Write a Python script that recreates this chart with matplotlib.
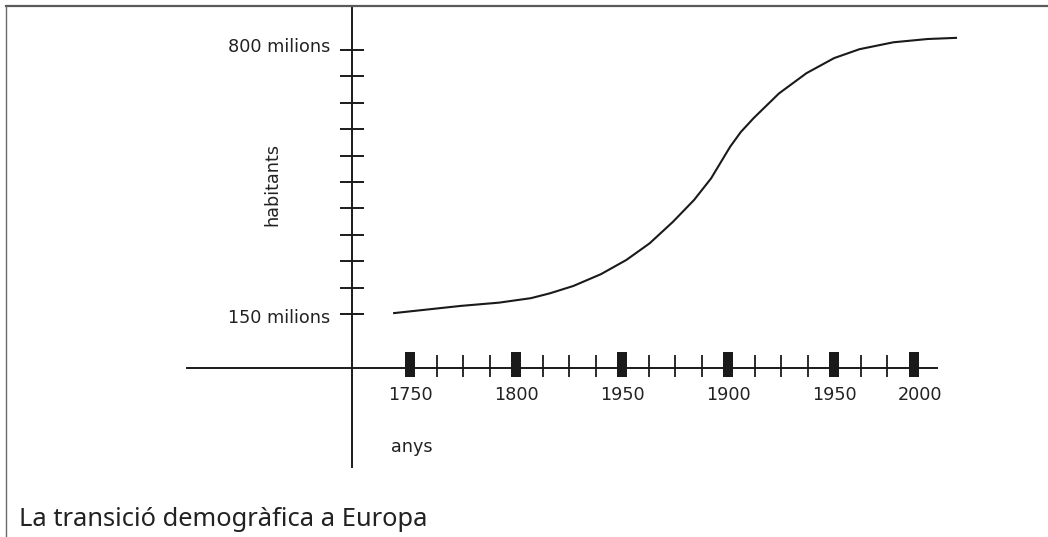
import matplotlib
matplotlib.use("Agg")
import matplotlib.pyplot as plt
import matplotlib.transforms as mtransforms
from matplotlib.lines import Line2D

# ── Data ────────────────────────────────────────────────────────────────────
years = [1742, 1774, 1792, 1807, 1816, 1827, 1840, 1852, 1863, 1874, 1884,
         1892, 1901, 1906, 1912, 1924, 1937, 1950, 1962, 1978, 1994, 2008]
population = [152, 170, 178, 189, 201, 219, 248, 283, 324, 377, 431,
              484, 562, 598, 632, 693, 743, 780, 802, 819, 827, 830]

y_ticks = [150, 215, 280, 345, 410, 475, 540, 605, 670, 735, 800]
y_tick_labels = {150: "150 milions", 800: "800 milions"}

x_major = [1750, 1800, 1850, 1900, 1950, 1987.5]
x_major_labels = ["1750", "1800", "1950", "1900", "1950", "2000"]
x_minor = [1762.5, 1775, 1787.5, 1812.5, 1825, 1837.5, 1862.5, 1875,
           1887.5, 1912.5, 1925, 1937.5, 1962.5, 1975]

caption = "La transició demogràfica a Europa"

# ── Figure ──────────────────────────────────────────────────────────────────
W, H = 1048, 537
fig = plt.figure(figsize=(W / 100, H / 100), dpi=100, facecolor="white")
ax = fig.add_axes([0, 0, 1, 1])
ax.set_xlim(1556.6, 2050.9)
ax.set_ylim(-399.0, 923.1)
ax.axis("off")

# pixel coords, origin top-left
pix = mtransforms.Affine2D().scale(1 / W, -1 / H).translate(0, 1) + fig.transFigure
x_pix_y_data = mtransforms.blended_transform_factory(pix, ax.transData)
x_data_y_pix = mtransforms.blended_transform_factory(ax.transData, pix)

ink = "#1a1a1a"
txt = "#222222"
font = dict(fontsize=12.7, color=txt, family="DejaVu Sans")

# frame (top + left only)
fig.add_artist(Line2D([6, W], [6, 6], transform=pix, color="#5a5a5a", lw=1.6))
fig.add_artist(Line2D([6, 6], [6, H], transform=pix, color="#6a6a6a", lw=1.0))

# axes lines
ax.add_line(Line2D([352, 352], [6, 467], transform=pix, color=ink, lw=1.4))
ax.add_line(Line2D([187, 937], [368, 368], transform=pix, color=ink, lw=1.4))

# y ticks
ax.hlines(y_ticks, 340, 364, transform=x_pix_y_data, color=ink, lw=1.4)
ax.text(330, 52, y_tick_labels[800], transform=pix, ha="right", va="baseline", **font)
ax.text(330, 323, y_tick_labels[150], transform=pix, ha="right", va="baseline", **font)
ax.text(272, 185, "habitants", transform=pix, ha="center", va="center",
        rotation=90, **font)

# x ticks
ax.vlines(x_minor, 355, 377, transform=x_data_y_pix, color=ink, lw=1.3)
ax.vlines(x_major, 352, 377, transform=x_data_y_pix, color=ink, lw=7.2,
          capstyle="butt")
for i, (xp, lab) in enumerate(zip(x_major, x_major_labels)):
    shift = 6 if i == len(x_major) - 1 else 0
    ax.text(xp, 400, lab, ha="center", va="baseline",
            transform=x_data_y_pix + mtransforms.Affine2D().translate(shift, 0),
            **font)
ax.text(391, 452, "anys", transform=pix, ha="left", va="baseline", **font)

# curve
ax.plot(years, population, color=ink, lw=1.5, solid_joinstyle="round",
        solid_capstyle="butt")

# caption, sized to the reference width
cap = fig.text(19 / W, 1 - 526 / H, caption, ha="left", va="baseline",
               fontsize=20, color=txt, family="Noto Sans")
fig.canvas.draw()
w = cap.get_window_extent().width
cap.set_fontsize(20 * 408 / w)

fig.savefig("out.png", dpi=100, facecolor="white")
